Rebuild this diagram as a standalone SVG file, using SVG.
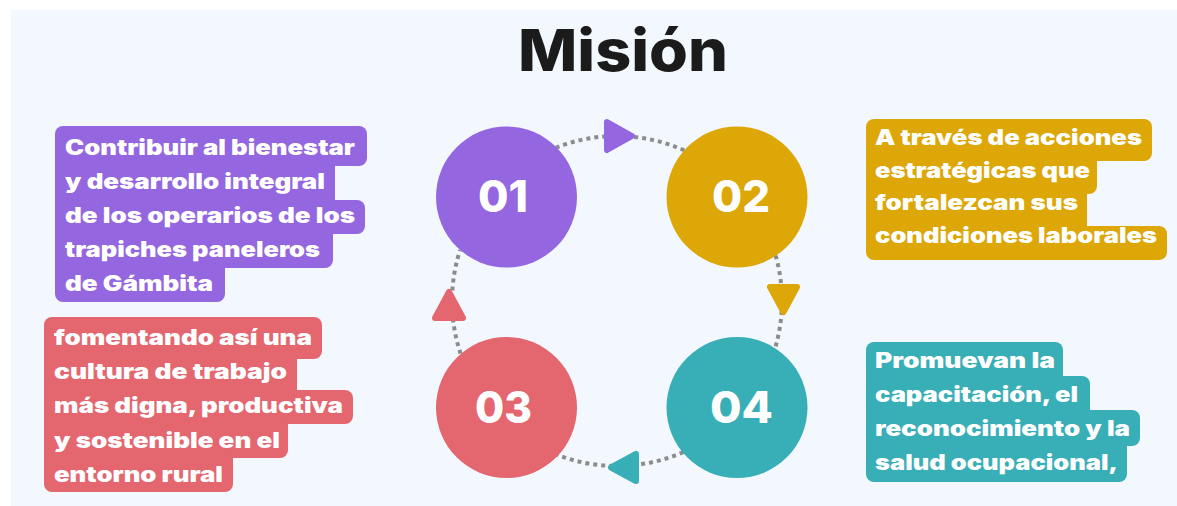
<svg xmlns="http://www.w3.org/2000/svg" width="1177" height="506" viewBox="0 0 1177 506">
  <defs>
    <style>
      .title { font-family: Inter, "Open Sans", "Liberation Sans", sans-serif; font-weight: 800; font-size: 58px; fill: #1b1b1b; }
      .num { font-family: Inter, "Open Sans", "Liberation Sans", sans-serif; font-weight: 800; font-size: 44px; fill: #ffffff; text-anchor: middle; }
      .txt { font-family: Inter, "Open Sans", "Liberation Sans", sans-serif; font-weight: 900; font-size: 21px; fill: #ffffff; }
      .dots { fill: none; stroke: #8c8c8c; stroke-width: 4; stroke-dasharray: 4 4; }
      .head { stroke-width: 6; stroke-linejoin: round; }
      .purple { fill: #9467e1; stroke: #9467e1; }
      .gold { fill: #dca707; stroke: #dca707; }
      .red { fill: #e4666f; stroke: #e4666f; }
      .teal { fill: #38aeb6; stroke: #38aeb6; }
    </style>
  </defs>

  <!-- page background -->
  <rect x="11" y="10" width="1166" height="496" fill="#f3f8fe"/>

  <text class="title" x="623" y="71" text-anchor="middle" textLength="210" lengthAdjust="spacingAndGlyphs">Misión</text>

  <!-- dotted cycle with arrowheads -->
  <g id="connectors">
    <path class="dots" d="M555.7,147.8 A165,165 0 0 1 684.6,150.5"/>
    <path class="dots" d="M775.6,255.5 A165,165 0 0 1 775.0,348.4"/>
    <path class="dots" d="M683.3,452.1 A165,165 0 0 1 557.3,454.8"/>
    <path class="dots" d="M460.6,353.6 A165,165 0 0 1 460.1,250.0"/>
    <polygon class="head purple" points="607,122 632,136 607,150"/>
    <polygon class="head gold" points="770,287 797,287 783.5,312"/>
    <polygon class="head teal" points="611,467.5 636,454 636,481"/>
    <polygon class="head red" points="449,292 463,318 435,318"/>
  </g>

  <!-- step circles -->
  <g id="node-01">
    <circle cx="506.5" cy="197" r="70.5" fill="#9467e1"/>
    <text class="num" x="503" y="212" textLength="50" lengthAdjust="spacingAndGlyphs">01</text>
  </g>
  <g id="node-02">
    <circle cx="737" cy="197" r="70.5" fill="#dca707"/>
    <text class="num" x="741" y="212" textLength="58" lengthAdjust="spacingAndGlyphs">02</text>
  </g>
  <g id="node-03">
    <circle cx="506.5" cy="407.5" r="70.5" fill="#e4666f"/>
    <text class="num" x="503.5" y="423" textLength="57" lengthAdjust="spacingAndGlyphs">03</text>
  </g>
  <g id="node-04">
    <circle cx="737" cy="407.5" r="70.5" fill="#38aeb6"/>
    <text class="num" x="741.5" y="423" textLength="63" lengthAdjust="spacingAndGlyphs">04</text>
  </g>

  <!-- text callouts: one rounded rect per line, plus a strip that keeps the left edge straight -->
  <g id="text-01">
    <g fill="#9467e1">
      <rect x="55" y="126" width="312" height="40" rx="8"/>
      <rect x="55" y="158" width="280" height="50" rx="8"/>
      <rect x="55" y="200" width="310" height="34" rx="8"/>
      <rect x="55" y="226" width="278" height="42" rx="8"/>
      <rect x="55" y="260" width="170" height="42" rx="8"/>
      <rect x="55" y="134" width="20" height="160"/>
    </g>
    <text class="txt" x="65" y="155" textLength="290" lengthAdjust="spacingAndGlyphs">Contribuir al bienestar</text>
    <text class="txt" x="65" y="189" textLength="260" lengthAdjust="spacingAndGlyphs">y desarrollo integral</text>
    <text class="txt" x="65" y="223" textLength="290" lengthAdjust="spacingAndGlyphs">de los operarios de los</text>
    <text class="txt" x="65" y="257" textLength="255" lengthAdjust="spacingAndGlyphs">trapiches paneleros</text>
    <text class="txt" x="65" y="291" textLength="148" lengthAdjust="spacingAndGlyphs">de Gámbita</text>
  </g>

  <g id="text-02">
    <g fill="#dca707">
      <rect x="866" y="119" width="286" height="42" rx="8"/>
      <rect x="866" y="153" width="231" height="41" rx="8"/>
      <rect x="866" y="186" width="221" height="48" rx="8"/>
      <rect x="866" y="226" width="301" height="34" rx="8"/>
      <rect x="866" y="127" width="20" height="125"/>
    </g>
    <text class="txt" x="875" y="145" textLength="267" lengthAdjust="spacingAndGlyphs">A través de acciones</text>
    <text class="txt" x="875" y="178" textLength="215" lengthAdjust="spacingAndGlyphs">estratégicas que</text>
    <text class="txt" x="875" y="210" textLength="203" lengthAdjust="spacingAndGlyphs">fortalezcan sus</text>
    <text class="txt" x="875" y="243" textLength="282" lengthAdjust="spacingAndGlyphs">condiciones laborales</text>
  </g>

  <g id="text-03">
    <g fill="#e4666f">
      <rect x="44" y="317" width="278" height="42" rx="8"/>
      <rect x="44" y="351" width="253" height="47" rx="8"/>
      <rect x="44" y="390" width="309" height="34" rx="8"/>
      <rect x="44" y="416" width="244" height="42" rx="8"/>
      <rect x="44" y="450" width="189" height="42" rx="8"/>
      <rect x="44" y="325" width="20" height="159"/>
    </g>
    <text class="txt" x="54" y="345" textLength="258" lengthAdjust="spacingAndGlyphs">fomentando así una</text>
    <text class="txt" x="54" y="379" textLength="233" lengthAdjust="spacingAndGlyphs">cultura de trabajo</text>
    <text class="txt" x="54" y="413" textLength="289" lengthAdjust="spacingAndGlyphs">más digna, productiva</text>
    <text class="txt" x="54" y="448" textLength="226" lengthAdjust="spacingAndGlyphs">y sostenible en el</text>
    <text class="txt" x="54" y="482" textLength="169" lengthAdjust="spacingAndGlyphs">entorno rural</text>
  </g>

  <g id="text-04">
    <g fill="#38aeb6">
      <rect x="866" y="342" width="197" height="42" rx="8"/>
      <rect x="866" y="376" width="224" height="42" rx="8"/>
      <rect x="866" y="410" width="274" height="36" rx="8"/>
      <rect x="866" y="438" width="261" height="44" rx="8"/>
      <rect x="866" y="350" width="20" height="124"/>
    </g>
    <text class="txt" x="875" y="368" textLength="180" lengthAdjust="spacingAndGlyphs">Promuevan la</text>
    <text class="txt" x="875" y="402" textLength="203" lengthAdjust="spacingAndGlyphs">capacitación, el</text>
    <text class="txt" x="875" y="436" textLength="255" lengthAdjust="spacingAndGlyphs">reconocimiento y la</text>
    <text class="txt" x="875" y="470" textLength="243" lengthAdjust="spacingAndGlyphs">salud ocupacional,</text>
  </g>
</svg>
